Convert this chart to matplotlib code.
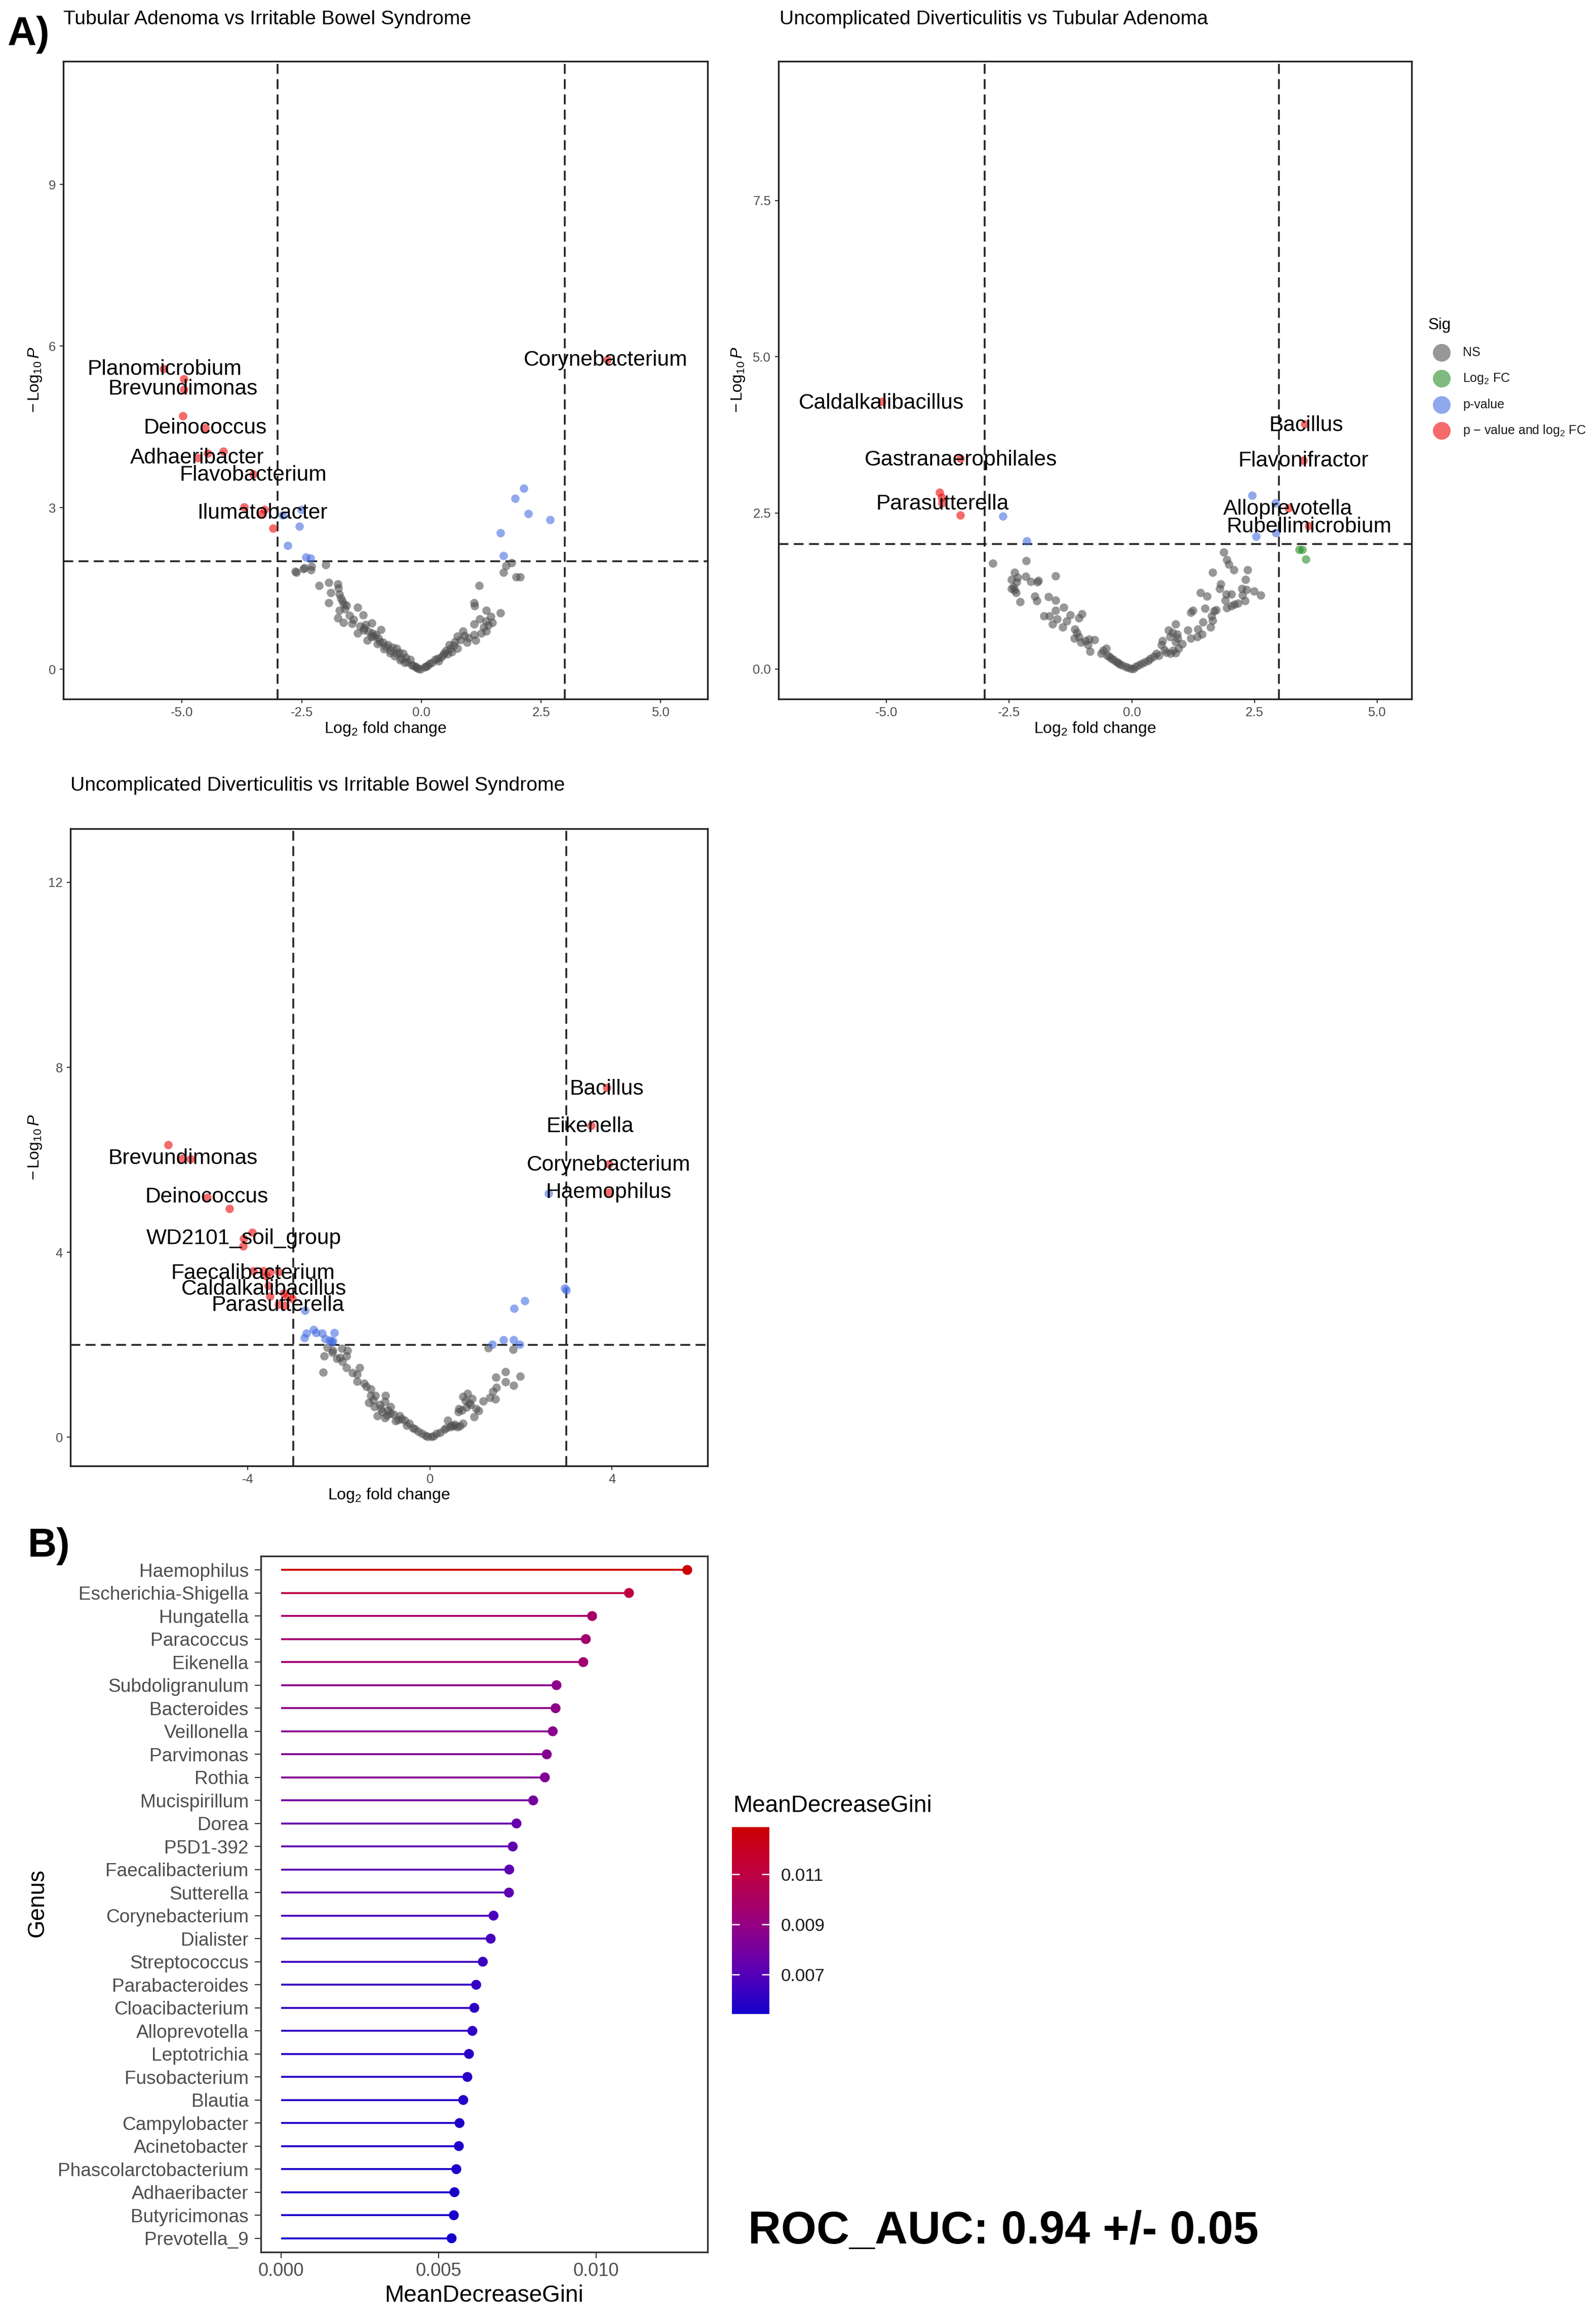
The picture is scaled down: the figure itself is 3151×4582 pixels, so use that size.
import numpy as np
import matplotlib
matplotlib.use('Agg')
import matplotlib.pyplot as plt
from matplotlib.colors import LinearSegmentedColormap, Normalize
from matplotlib.cm import ScalarMappable
from matplotlib.lines import Line2D

plt.rcParams['font.family'] = ['Liberation Sans', 'DejaVu Sans']
plt.rcParams['mathtext.fontset'] = 'custom'
plt.rcParams['mathtext.rm'] = 'Liberation Sans'
plt.rcParams['mathtext.it'] = 'Liberation Sans:italic'
plt.rcParams['mathtext.bf'] = 'Liberation Sans:bold'
plt.rcParams['axes.unicode_minus'] = False

# ------------------------------------------------------------------ data
titles = ["Tubular Adenoma vs Irritable Bowel Syndrome",
          "Uncomplicated Diverticulitis vs Tubular Adenoma",
          "Uncomplicated Diverticulitis vs Irritable Bowel Syndrome"]

# Panel A1 (log2FC, -log10 P)
a1_ns = [(-2.63,1.82),(-2.46,1.86),(-2.0,1.94),(-2.61,1.80),(-2.44,1.88),(-2.31,1.84),(-2.29,1.91),
         (-2.14,1.55),(-1.94,1.61),(-1.74,1.58),(-1.73,1.51),(-1.89,1.42),(-1.71,1.39),(-1.94,1.23),
         (-1.65,1.26),(-1.57,1.19),(-1.33,1.15),(-1.71,1.09),(-1.74,0.95),(-1.63,0.87),(-1.42,0.92),
         (-1.22,1.01),(-1.16,0.83),(-1.04,0.86),(-1.33,0.67),(-0.84,0.73),(-1.13,0.54),(-0.99,0.61),
         (-0.87,0.51),(-0.75,0.42),(-0.64,0.35),(-0.52,0.29),(-0.41,0.20),(-0.29,0.13),(-0.17,0.07),
         (-0.06,0.01),(-0.52,0.39),(-0.70,0.45),(-0.90,0.57),(-1.02,0.67),(-1.19,0.76),(-0.38,0.29),
         (-0.23,0.18),(-1.68,1.32),(-1.62,1.20),(-1.60,1.12),(-1.50,1.00),(-1.28,0.80),(-1.10,0.70),
         (-0.95,0.64),(-0.80,0.50),(-0.60,0.40),(-0.46,0.31),(-0.33,0.22),(-0.12,0.05),(-1.45,0.85),
         (-1.20,0.72),(-1.05,0.60),(-0.92,0.47),(-0.78,0.38),(-0.66,0.30),(-0.56,0.24),(-0.44,0.17),
         (-0.35,0.12),(-0.20,0.08),(-0.10,0.03),(-0.02,0.00),
         (0.06,0.04),(0.17,0.10),(0.29,0.18),(0.41,0.23),(0.52,0.35),(0.58,0.45),(0.70,0.51),(0.75,0.61),
         (0.87,0.71),(0.75,0.39),(0.46,0.26),(0.64,0.32),(0.99,0.58),(1.10,0.64),(1.13,0.54),(1.25,0.67),
         (1.36,0.71),(1.10,0.84),(1.22,0.93),(1.36,0.89),(1.48,0.87),(1.36,1.09),(1.45,0.98),(1.65,1.04),
         (1.10,1.23),(1.11,1.18),(1.21,1.55),(1.72,1.80),(1.77,1.92),(1.89,1.98),(1.98,1.71),(2.07,1.71),
         (0.10,0.05),(0.22,0.12),(0.34,0.20),(0.48,0.30),(0.60,0.38),(0.68,0.44),(0.82,0.55),(0.90,0.62),
         (0.95,0.50),(1.30,0.78),(1.40,0.82),(0.13,0.07),(0.36,0.15),(0.55,0.28)]
a1_fc = []
a1_pv = [(-2.51,2.96),(-2.90,2.86),(-2.55,2.65),(-2.79,2.30),(-2.41,2.08),(-2.32,2.06),
         (2.14,3.36),(1.96,3.17),(2.23,2.89),(2.69,2.78),(1.65,2.53),(1.72,2.11)]
a1_both = [(-5.38,5.58),(-4.96,5.39),(-4.96,5.19),(-4.98,4.70),(-4.52,4.48),(-4.46,4.01),(-4.67,3.92),
           (-4.14,4.05),(-3.51,3.62),(-3.70,3.01),(-3.28,2.96),(-3.34,2.88),(-3.10,2.62),(3.88,5.75)]
a1_names = ["Planomicrobium","Brevundimonas","Deinococcus","Adhaeribacter","Flavobacterium",
            "Ilumatobacter","Corynebacterium"]

# Panel A2
a2_ns = [(-2.83,1.69),(-2.15,1.73),(-2.39,1.55),(-2.33,1.47),(-2.45,1.43),(-2.35,1.39),(-2.41,1.31),
         (-2.45,1.29),(-2.39,1.26),(-2.36,1.22),(-2.28,1.08),(-2.16,1.48),(-2.06,1.40),(-1.91,1.42),
         (-1.93,1.39),(-1.56,1.49),(-1.98,1.17),(-1.94,1.09),(-1.70,1.16),(-1.55,1.10),(-1.39,0.99),
         (-1.56,0.94),(-1.79,0.85),(-1.68,0.85),(-1.52,0.80),(-1.62,0.72),(-1.41,0.67),(-1.33,0.77),
         (-1.26,0.87),(-1.02,0.88),(-1.08,0.82),(-1.16,0.64),(-1.17,0.49),(-1.08,0.52),(-1.04,0.43),
         (-0.87,0.48),(-0.76,0.47),(-0.89,0.39),(-0.85,0.28),(-0.63,0.25),(-0.52,0.33),(-0.50,0.22),
         (-0.42,0.17),(-0.33,0.12),(-0.25,0.08),(-0.13,0.04),(-0.02,0.01),(0.08,0.04),(0.20,0.09),
         (0.33,0.14),(0.45,0.20),(0.50,0.25),(0.60,0.39),(0.66,0.31),(0.79,0.25),(0.89,0.26),(0.95,0.33),
         (1.02,0.40),(0.75,0.62),(0.83,0.58),(0.89,0.72),(0.93,0.49),(0.89,0.44),(1.14,0.62),(1.20,0.49),
         (1.33,0.52),(1.43,0.56),(1.35,0.64),(1.45,0.75),(1.60,0.67),(1.64,0.78),(1.62,0.85),(1.68,0.93),
         (1.72,0.95),(1.20,0.91),(1.24,0.94),(1.49,0.97),(1.40,1.22),(1.53,1.17),(1.64,1.55),(1.81,1.36),
         (1.79,1.29),(1.92,1.20),(1.90,1.10),(1.93,0.98),(2.03,1.20),(2.09,1.04),(2.03,1.01),(1.87,1.87),
         (1.93,1.75),(1.97,1.68),(2.08,1.59),(2.36,1.59),(2.32,1.43),(2.24,1.29),(2.34,1.27),(2.49,1.25),
         (2.62,1.18),(2.25,1.18),(2.30,1.09),(2.16,1.05),
         (-0.58,0.30),(-0.46,0.20),(-0.38,0.15),(-0.29,0.10),(-0.20,0.06),(-0.08,0.02),(0.03,0.01),
         (0.14,0.06),(0.26,0.11),(0.38,0.17),(0.55,0.22),(0.70,0.27),(0.84,0.30),(-0.95,0.45),
         (-1.12,0.58),(0.62,0.45),(0.78,0.52),(0.92,0.56)]
a2_fc = [(3.41,1.91),(3.47,1.91),(3.54,1.76)]
a2_pv = [(-2.63,2.45),(-2.14,2.05),(2.45,2.78),(2.92,2.66),(2.53,2.12),(2.93,2.18)]
a2_both = [(-5.09,4.28),(-3.50,3.37),(-3.92,2.83),(-3.88,2.75),(-3.87,2.66),(-3.50,2.46),
           (3.52,3.92),(3.49,3.34),(3.19,2.58),(3.60,2.29)]
a2_names = ["Caldalkalibacillus","Gastranaerophilales","Parasutterella","Bacillus",
            "Flavonifractor","Alloprevotella","Rubellimicrobium"]

# Panel A3
a3_ns = [(-2.26,1.94),(-2.13,1.88),(-2.32,1.76),(-2.15,1.83),(-1.98,1.72),(-1.94,1.92),(-1.81,1.88),
         (-1.84,1.76),(-1.92,1.64),(-1.84,1.50),(-2.35,1.41),(-1.55,1.50),(-1.60,1.36),(-1.60,1.21),
         (-1.45,1.17),(-1.30,1.04),(-1.30,0.90),(-1.20,0.90),(-0.98,0.90),(-1.34,0.75),(-1.22,0.66),
         (-1.08,0.62),(-0.99,0.77),(-0.87,0.66),(-1.16,0.46),(-0.99,0.42),(-0.87,0.52),(-0.67,0.46),
         (-0.75,0.35),(-0.55,0.37),(-0.51,0.26),(-0.38,0.20),(-0.26,0.13),(-0.10,0.04),(0.03,0.02),
         (0.15,0.08),(0.31,0.17),(0.39,0.37),(0.47,0.26),(0.60,0.22),(0.72,0.30),(0.64,0.62),(0.62,0.55),
         (0.72,0.88),(0.82,0.95),(0.93,0.84),(0.78,0.79),(0.89,0.70),(1.01,0.62),(1.07,0.57),(0.97,0.44),
         (1.17,0.78),(1.31,0.86),(1.44,0.83),(1.38,0.99),(1.46,1.08),(1.45,1.30),(1.66,1.42),(1.66,1.20),
         (1.84,1.12),(1.98,1.32),(1.28,1.93),(1.83,1.90),
         (-1.40,1.10),(-1.25,0.80),(-1.10,0.70),(-0.92,0.58),(-0.80,0.50),(-0.62,0.40),(-0.45,0.30),
         (-0.33,0.18),(-0.18,0.08),(-0.05,0.02),(0.08,0.03),(0.22,0.10),(0.36,0.20),(0.52,0.24),
         (0.66,0.25),(0.55,0.28),(0.45,0.22),(0.70,0.58),(0.80,0.65),(0.86,0.74),(-1.05,0.55),
         (-0.95,0.48),(-0.70,0.38),(-2.05,1.70),(-1.70,1.40)]
a3_fc = []
a3_pv = [(-2.76,2.15),(-2.71,2.25),(-2.56,2.33),(-2.50,2.26),(-2.37,2.25),(-2.10,2.26),(-2.30,2.13),
         (-2.20,2.10),(-2.14,2.09),(-2.16,2.05),(-2.75,2.74),
         (1.37,2.01),(1.62,2.11),(1.84,2.11),(1.97,2.01),(1.85,2.79),(2.08,2.95),(2.96,3.23),
         (2.99,3.18),(2.60,5.27)]
a3_both = [(-5.75,6.33),(-5.44,6.03),(-5.26,6.02),(-4.90,5.19),(-4.41,4.95),(-3.90,4.43),(-4.09,4.30),
           (-4.10,4.13),(-3.88,3.60),(-3.66,3.60),(-3.51,3.57),(-3.33,3.58),(-3.59,3.49),(-3.55,3.28),
           (-3.51,3.05),(-3.21,3.11),(-3.14,3.05),(-3.03,3.00),(-3.33,2.87),(-3.18,2.85),
           (3.88,7.56),(3.54,6.74),(3.93,5.91),(3.93,5.30)]
a3_names = ["Brevundimonas","Deinococcus","WD2101_soil_group","Faecalibacterium",
            "Caldalkalibacillus","Parasutterella","Bacillus","Eikenella","Corynebacterium","Haemophilus"]

log2fc_cutoff = 3.0
p_cutoff = 2.0

# Panel B
genus = ["Haemophilus","Escherichia-Shigella","Hungatella","Paracoccus","Eikenella",
         "Subdoligranulum","Bacteroides","Veillonella","Parvimonas","Rothia","Mucispirillum",
         "Dorea","P5D1-392","Faecalibacterium","Sutterella","Corynebacterium","Dialister",
         "Streptococcus","Parabacteroides","Cloacibacterium","Alloprevotella","Leptotrichia",
         "Fusobacterium","Blautia","Campylobacter","Acinetobacter","Phascolarctobacterium",
         "Adhaeribacter","Butyricimonas","Prevotella_9"]
gini = [0.01289,0.01104,0.00987,0.00967,0.00959,0.00874,0.00871,0.00862,0.00843,0.00837,
        0.00800,0.00747,0.00735,0.00724,0.00723,0.00674,0.00665,0.00640,0.00619,0.00613,
        0.00607,0.00596,0.00591,0.00578,0.00566,0.00564,0.00556,0.00550,0.00548,0.00541]
roc_text = "ROC_AUC: 0.94 +/- 0.05"

# ------------------------------------------------------------------ layout helpers
W, H, DPI = 3151, 4582, 300
fig = plt.figure(figsize=(W / DPI, H / DPI), dpi=DPI)
fig.patch.set_facecolor('white')

def rect(l, t, r, b):
    return [l / W, 1 - b / H, (r - l) / W, (b - t) / H]

def ftext(x, y, s, **kw):
    return fig.text(x / W, 1 - y / H, s, **kw)

GREY30 = '#4D4D4D'
COLS = {'ns': '#4D4D4D', 'fc': '#228B22', 'pv': '#4169E1', 'both': '#EE0000'}
ALPHA = 0.58

def volcano(rc, ns, fc, pv, both, names, label_xy, xlim, ylim, xt, xtl, yt, ytl):
    ax = fig.add_axes(rect(*rc))
    for key, pts in (('ns', ns), ('fc', fc), ('pv', pv), ('both', both)):
        if len(pts):
            arr = np.array(pts)
            ax.scatter(arr[:, 0], arr[:, 1], s=16, c=COLS[key], alpha=ALPHA,
                       linewidths=0, zorder=2)
    ls = (0, (5.5, 3.0))
    ax.axhline(p_cutoff, color='#222222', lw=0.85, ls=ls, zorder=1)
    ax.axvline(-log2fc_cutoff, color='#222222', lw=0.85, ls=ls, zorder=1)
    ax.axvline(log2fc_cutoff, color='#222222', lw=0.85, ls=ls, zorder=1)
    for n, (lx, ly) in zip(names, label_xy):
        ax.text(lx, ly, n, fontsize=10.2, color='black', ha='center', va='center', zorder=3)
    ax.set_xlim(*xlim)
    ax.set_ylim(*ylim)
    ax.set_xticks(xt)
    ax.set_xticklabels(xtl)
    ax.set_yticks(yt)
    ax.set_yticklabels(ytl)
    ax.tick_params(length=1.8, width=0.5, color='#333333', labelsize=6.2,
                   labelcolor=GREY30, pad=1.8)
    for sp in ax.spines.values():
        sp.set_linewidth(0.8)
        sp.set_color('#222222')
    return ax

XL = r'$\mathrm{Log}_{2}$ fold change'
YL = r'$-\,\mathrm{Log}_{10}\,\mathit{P}$'

# A1
a1_lab = [(-5.37,5.57),(-4.98,5.20),(-4.52,4.48),(-4.68,3.92),(-3.51,3.60),(-3.32,2.90),(3.85,5.74)]
volcano((125, 121, 1397, 1380), a1_ns, a1_fc, a1_pv, a1_both, a1_names, a1_lab,
        (-7.48, 5.98), (-0.555, 11.29), [-5, -2.5, 0, 2.5, 5],
        ['-5.0', '-2.5', '0.0', '2.5', '5.0'], [0, 3, 6, 9], ['0', '3', '6', '9'])
ftext(125, 38, titles[0], fontsize=9.4, ha='left', va='center')
ftext(761, 1439, XL, fontsize=7.7, ha='center', va='center')
ftext(69, 750, YL, fontsize=7.7, ha='center', va='center', rotation=90)

# A2
a2_lab = [(-5.10,4.26),(-3.48,3.35),(-3.86,2.64),(3.55,3.90),(3.49,3.33),(3.18,2.56),(3.61,2.28)]
volcano((1537, 121, 2787, 1380), a2_ns, a2_fc, a2_pv, a2_both, a2_names, a2_lab,
        (-7.20, 5.70), (-0.48, 9.73), [-5, -2.5, 0, 2.5, 5],
        ['-5.0', '-2.5', '0.0', '2.5', '5.0'], [0, 2.5, 5, 7.5], ['0.0', '2.5', '5.0', '7.5'])
ftext(1539, 38, titles[1], fontsize=9.4, ha='left', va='center')
ftext(2162, 1439, XL, fontsize=7.7, ha='center', va='center')
ftext(1457, 750, YL, fontsize=7.7, ha='center', va='center', rotation=90)

# A3
a3_lab = [(-5.43,6.03),(-4.91,5.20),(-4.09,4.30),(-3.89,3.54),(-3.65,3.20),(-3.34,2.85),
          (3.88,7.53),(3.52,6.72),(3.93,5.89),(3.93,5.29)]
volcano((139, 1636, 1397, 2894), a3_ns, a3_fc, a3_pv, a3_both, a3_names, a3_lab,
        (-7.90, 6.10), (-0.62, 13.16), [-4, 0, 4], ['-4', '0', '4'],
        [0, 4, 8, 12], ['0', '4', '8', '12'])
ftext(139, 1551, titles[2], fontsize=9.4, ha='left', va='center')
ftext(768, 2952, XL, fontsize=7.7, ha='center', va='center')
ftext(69, 2265, YL, fontsize=7.7, ha='center', va='center', rotation=90)

# Legend "Sig"
ftext(2820, 642, 'Sig', fontsize=7.5, ha='left', va='center')
leg_labels = ['NS', r'$\mathrm{Log}_{2}$ FC', 'p-value', r'p $-$ value and $\mathrm{log}_{2}$ FC']
leg_cols = [COLS['ns'], COLS['fc'], COLS['pv'], COLS['both']]
for i, (lab, col) in enumerate(zip(leg_labels, leg_cols)):
    yy = 696 + i * 51.3
    fig.add_artist(Line2D([2846 / W], [1 - yy / H], marker='o', ms=8.4, color=col,
                          alpha=ALPHA, mew=0, ls='none', transform=fig.transFigure))
    ftext(2888, yy, lab, fontsize=6.0, ha='left', va='center', color='#1a1a1a')

# Panel labels
ftext(14, 68, 'A)', fontsize=19, fontweight='bold', ha='left', va='center')
ftext(55, 3053, 'B)', fontsize=19, fontweight='bold', ha='left', va='center')

# ------------------------------------------------------------------ Panel B
cmap = LinearSegmentedColormap.from_list(
    'gini', [(0.0, '#1600CC'), (0.21, '#5500B9'), (0.48, '#960082'),
             (0.75, '#BE0041'), (1.0, '#CD0005')])
gvals = np.array(gini)
norm = Normalize(vmin=gvals.min(), vmax=gvals.max())
ypos = np.arange(len(genus), 0, -1)

axb = fig.add_axes(rect(515, 3072, 1397, 4446))
axb.hlines(ypos, 0, gvals, colors=cmap(norm(gvals)), lw=0.9, zorder=2)
axb.scatter(gvals, ypos, c=gvals, cmap=cmap, norm=norm, s=22, linewidths=0, zorder=3)
axb.set_xlim(-0.000645, 0.013535)
axb.set_ylim(0.4, len(genus) + 0.6)
axb.set_yticks(ypos)
axb.set_yticklabels(genus)
axb.set_xticks([0, 0.005, 0.010])
axb.set_xticklabels(['0.000', '0.005', '0.010'])
axb.tick_params(axis='y', length=2.8, width=0.5, color='#333333', labelsize=8.9,
                labelcolor=GREY30, pad=3.0)
axb.tick_params(axis='x', length=2.8, width=0.5, color='#333333', labelsize=8.7,
                labelcolor=GREY30, pad=2.0)
for sp in axb.spines.values():
    sp.set_linewidth(0.8)
    sp.set_color('#333333')
ftext(956, 4532, 'MeanDecreaseGini', fontsize=11, ha='center', va='center')
ftext(74, 3756, 'Genus', fontsize=11, ha='center', va='center', rotation=90)

# colourbar
cax = fig.add_axes(rect(1445, 3607, 1519, 3976))
cb = fig.colorbar(ScalarMappable(norm=norm, cmap=cmap), cax=cax)
cb.set_ticks([0.007, 0.009, 0.011])
cb.set_ticklabels(['0.007', '0.009', '0.011'])
cb.outline.set_visible(False)
cax.tick_params(direction='in', length=3.6, width=0.6, color='white', left=True, right=True,
                labelleft=False, labelright=True, labelsize=8.3, labelcolor='#1a1a1a', pad=5.5)
ftext(1447, 3565, 'MeanDecreaseGini', fontsize=11, ha='left', va='center')

# ROC text
ftext(1477, 4406, roc_text, fontsize=21.6, fontweight='bold', ha='left', va='center')

fig.savefig('out.png', dpi=DPI, facecolor='white')
